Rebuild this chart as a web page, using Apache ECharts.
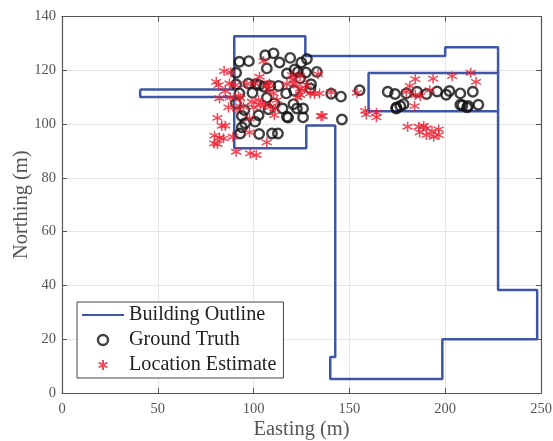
<!DOCTYPE html>
<html><head><meta charset="utf-8">
<style>html,body{margin:0;padding:0;background:#fff}#c{width:553px;height:441px}</style>
<script src="https://cdn.jsdelivr.net/npm/echarts@6/dist/echarts.min.js"></script></head>
<body><div id="c"></div>
<script>
const outlineMain = [[40.8,112.9],[89.9,112.9],[89.9,132.7],[127,132.7],[127,125.3],[200,125.3],[200,128.6],[227.6,128.6],[227.6,38.3],[248,38.3],[248,20],[198.5,20],[198.5,5.2],[140,5.2],[140,13.4],[142.6,13.4],[142.6,99.5],[127.5,99.5],[127.5,91],[89.9,91],[89.9,110.1],[40.8,110.1],[40.8,112.9]];
const outlineInner = [[227.6,119],[160,119],[160,104.8],[227.6,104.8]];
const groundTruth = [[92.6,123.2],[97.5,123.4],[106.1,125.6],[110.4,126.3],[113.5,122.9],[119.1,124.6],[106.9,120.7],[90.9,119.1],[117.4,118.8],[121.4,120.3],[124.9,122.9],[127.8,124.2],[123.1,119.4],[127.3,119.2],[133,119.4],[124.3,117],[130,114.8],[129.6,113.2],[97.3,115.1],[90.9,114.7],[101.4,114.9],[102.9,114.5],[105.5,113.9],[108.7,114.2],[113,114.2],[99.4,111.6],[106.9,109.8],[117,111.4],[121.2,112.4],[92.6,111.4],[90.8,107.7],[95.2,105.2],[93.9,103],[102.6,103.3],[100.8,100.9],[107.8,105.5],[115.1,105.8],[110.8,107.7],[120.8,107.4],[122.6,105.8],[125.8,105.8],[117.4,102.7],[118,102.4],[125.8,102.5],[95.6,100.3],[93.9,98.8],[93,96.5],[102.9,96.3],[109.6,96.5],[112.7,96.5],[140.5,111.3],[145.6,110.2],[155.3,112.6],[146.1,101.7],[170,112],[173.8,111.2],[179.7,111.4],[185.3,112],[190.2,111.2],[195.8,112.1],[200.5,110.9],[202.2,112.3],[207.9,111.4],[214.4,112],[174.5,106.2],[174.5,105.8],[176.6,106.7],[178.3,107.4],[207.9,107.2],[209,107],[212,106.7],[211.4,106.2],[217.3,107.2]];
const estimates = [[84.6,119.7],[88.1,119.2],[80.5,115.7],[81.7,114.5],[87.4,115.1],[85.2,112.3],[82.2,109.6],[87.8,109.9],[92.1,110.4],[86.9,106.2],[81.1,102.3],[83.4,99.3],[85.2,99.4],[89.2,95.3],[79.6,95.7],[82.2,94.9],[84.3,94.7],[79.4,92.8],[81.1,92.6],[90.9,89.7],[98.2,89.1],[101.4,88.5],[106.9,93.2],[97.9,96.9],[97.9,102.1],[105.2,123.4],[103.1,117.6],[108.2,115.1],[117.4,114.8],[121.2,115.1],[120,118.2],[99.1,108.3],[102.6,108.9],[100,106.2],[106,107.1],[112.2,108.9],[111.3,105.8],[110.8,103.3],[122.9,109.9],[125.2,112.6],[131.8,111.2],[127.8,114.5],[135.2,103],[93,109.6],[91.3,105.8],[90.4,114.5],[107.8,113.2],[124.3,117.8],[134.4,111.4],[140.5,111.9],[136,103],[154,111.6],[158.3,104.9],[158.8,103.6],[164.1,104.2],[164.1,102.5],[184.4,116.7],[181.5,114.2],[193.7,116.9],[203.6,117.8],[213.3,119.1],[216.1,115.7],[179.7,112],[191.9,112.6],[184,106.7],[184.4,110.8],[187,110.4],[180.4,99],[186.2,99],[186.7,96.9],[188.8,99.3],[190.2,98.4],[190.2,95.9],[193.1,97.4],[194,95.3],[196.6,98],[196.6,95.9],[124.3,113.2],[124.3,110.8],[133.6,118.6],[129.6,111.4],[120.7,116.4],[96.5,114.9],[100.8,115.1],[110.4,111.4],[103.4,107.1],[94.7,106.4],[106.9,114.5],[108.7,106.4]];
const xTicks = {min:0,max:250,interval:50};
const yTicks = {min:0,max:140,interval:20};

const FONT = '"Liberation Serif","Times New Roman",serif';
const AX = '#555555';
const BLUE = '#3f56a8';
const RED = '#ee1c2e';
const star = 'path://M50 0V100M6.7 25L93.3 75M6.7 75L93.3 25';
function axis(extra, pos, name, gap, main, margin){
  return Object.assign({}, extra, {
    type:'value', position:pos, name:main?name:'', nameLocation:'middle', nameGap:gap, nameMoveOverlap:false,
    nameTextStyle:{fontFamily:FONT,fontSize:20.5,color:'#555'},
    axisLine:{show:true,onZero:false,lineStyle:{color:AX,width:1.2}},
    axisTick:{show:true,inside:true,length:5,lineStyle:{color:AX,width:1}},
    axisLabel:{show:main,fontFamily:FONT,fontSize:14.5,color:'#555',margin:margin},
    splitLine:{show:main,lineStyle:{color:'#e6e6e6',width:1}}
  });
}
const chart = echarts.init(document.getElementById('c'),null,{renderer:'canvas'});
chart.setOption({
  animation:false,
  backgroundColor:'#fff',
  grid:{left:62,right:12,top:16.5,bottom:48,containLabel:false,outerBoundsMode:'none'},
  xAxis:[axis(xTicks,'bottom','Easting (m)',26,true,9),axis(xTicks,'top','',0,false,6)],
  yAxis:[axis(yTicks,'left','Northing (m)',30,true,6),axis(yTicks,'right','',0,false,6)],
  legend:{
    left:77,top:302,orient:'vertical',padding:[0.5,7,0.5,4],itemGap:0,itemWidth:42,itemHeight:10,
    borderColor:'#444',borderWidth:1,backgroundColor:'#fff',
    textStyle:{fontFamily:FONT,fontSize:20.2,color:'#222',lineHeight:19,padding:[6,0,0,0]},
    data:[{name:'Building Outline',itemStyle:{opacity:0}},{name:'Ground Truth',itemStyle:{borderWidth:2.4}},'Location Estimate']
  },
  series:[
    {name:'Building Outline',type:'line',data:outlineMain,showSymbol:false,symbol:'none',lineStyle:{color:BLUE,width:2.5},itemStyle:{color:BLUE},z:2},
    {name:'Building Outline',type:'line',data:outlineInner,showSymbol:false,symbol:'none',lineStyle:{color:BLUE,width:2.5},itemStyle:{color:BLUE},z:2},
    {name:'Ground Truth',type:'scatter',data:groundTruth,symbol:'circle',symbolSize:9.5,itemStyle:{color:'transparent',borderColor:'#111',borderWidth:2.4},z:3},
    {name:'Location Estimate',type:'scatter',data:estimates,symbol:star,symbolSize:10,itemStyle:{color:'transparent',borderColor:RED,borderWidth:1.5},z:4}
  ]
});
</script></body></html>
